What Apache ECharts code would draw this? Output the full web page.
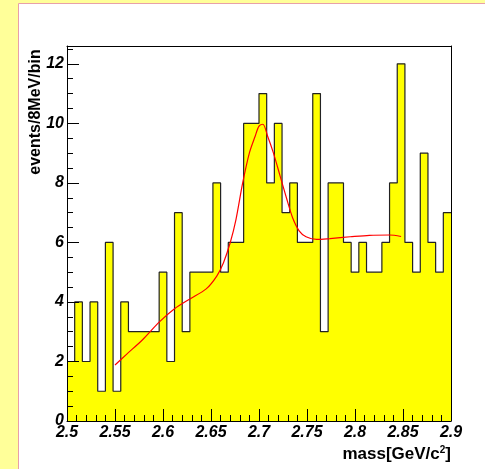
<!DOCTYPE html>
<html>
<head>
<meta charset="utf-8">
<script src="https://cdn.jsdelivr.net/npm/echarts@6/dist/echarts.min.js"></script>
<style>
html,body{margin:0;padding:0;background:#ffff99;}
#main{width:485px;height:469px;}
</style>
</head>
<body>
<div id="main"></div>
<script>
// histogram: 50 bins of 8 MeV from 2.5 GeV
var binLow = 2.5;
var binWidth = 0.008;
var counts = [2,4,2,4,1,6,1,4,3,3, 3,3,5,2,7,3,5,5,5,8,
              5,6,6,10,10,11,8,10,7,8, 6,6,11,3,8,8,6,5,6,5,
              5,6,8,12,6,5,9,6,5,7];

// fitted curve
var fitX = [2.550,2.562,2.579,2.596,2.612,2.628,2.645,2.656,2.663,2.670,2.676,2.683,2.690,2.696,2.700,
            2.704,2.709,2.715,2.722,2.729,2.735,2.742,2.749,2.760,2.774,2.795,2.815,2.836,2.848];
var fitY = [1.88,2.24,2.74,3.32,3.77,4.10,4.44,4.87,5.32,5.99,6.77,8.00,9.01,9.57,9.91,
            9.97,9.57,9.01,8.23,7.45,6.83,6.38,6.19,6.10,6.13,6.19,6.24,6.25,6.20];

var xTicks = [2.5,2.55,2.6,2.65,2.7,2.75,2.8,2.85,2.9];
var yTicks = [0,2,4,6,8,10,12];
var yMinorTicks = [0,0.5,1,1.5,2,2.5,3,3.5,4,4.5,5,5.5,6,6.5,7,7.5,8,8.5,9,9.5,10,10.5,11,11.5,12,12.5];

var histData = [];
for (var i = 0; i < counts.length; i++) {
	histData.push([+(binLow + i*binWidth).toFixed(3), counts[i]]);
}
histData.push([+(binLow + counts.length*binWidth).toFixed(3), counts[counts.length-1]]);

var fitData = [];
for (var j = 0; j < fitX.length; j++) {
	fitData.push([fitX[j], fitY[j]]);
}

var labelFont = {
	color: '#000',
	fontFamily: 'Liberation Sans, Arial, sans-serif',
	fontWeight: 'bold',
	fontStyle: 'italic',
	fontSize: 16
};

var myChart = echarts.init(document.getElementById('main'), null, {renderer: 'canvas'});

var option = {
	backgroundColor: '#ffff99',
	animation: false,
	grid: {
		left: 67,
		right: 34,
		top: 46,
		bottom: 48,
		show: false
	},
	graphic: [{
		type: 'rect',
		z: -10,
		shape: {x: 18.5, y: 3.5, width: 480, height: 480},
		style: {fill: '#ffffff', stroke: '#e8a0a8', lineWidth: 1}
	}, {
		type: 'text',
		x: 36,
		y: 112,
		rotation: Math.PI/2,
		style: {
			text: 'events/8MeV/bin',
			fill: '#000',
			fontFamily: 'Liberation Sans, Arial, sans-serif',
			fontWeight: 'bold',
			fontSize: 16,
			align: 'center',
			verticalAlign: 'middle'
		}
	}, {
		type: 'text',
		x: 451,
		y: 454,
		style: {
			text: '{a|mass[GeV/c}{s|2}{a|]}',
			fill: '#000',
			align: 'right',
			verticalAlign: 'middle',
			rich: {
				a: {fontFamily: 'Liberation Sans, Arial, sans-serif', fontWeight: 'bold', fontSize: 17},
				s: {fontFamily: 'Liberation Sans, Arial, sans-serif', fontWeight: 'bold', fontSize: 10, verticalAlign: 'top'}
			}
		}
	}],
	xAxis: [{
		type: 'value',
		min: 2.5,
		max: 2.9,
		interval: 0.05,
		z: 10,
		axisLine: {show: true, onZero: false, lineStyle: {color: '#000', width: 1}},
		axisTick: {show: true, inside: true, length: 12, customValues: xTicks, lineStyle: {color: '#000'}},
		minorTick: {show: true, splitNumber: 5, length: 6, lineStyle: {color: '#000'}},
		axisLabel: Object.assign({margin: 4, customValues: xTicks, formatter: function(v){ return String(+v.toFixed(2)); }}, labelFont),
		splitLine: {show: false},
		minorSplitLine: {show: false}
	}, {
		type: 'value',
		position: 'top',
		min: 2.5,
		max: 2.9,
		z: 10,
		axisLine: {show: true, onZero: false, lineStyle: {color: '#000', width: 1}},
		axisTick: {show: false},
		axisLabel: {show: false},
		splitLine: {show: false}
	}],
	yAxis: [{
		type: 'value',
		min: 0,
		max: 12.6,
		interval: 2,
		z: 10,
		axisLine: {show: true, onZero: false, lineStyle: {color: '#000', width: 1}},
		axisTick: {show: true, inside: true, length: 12, customValues: yTicks, lineStyle: {color: '#000'}},
		axisLabel: Object.assign({margin: 3, customValues: yTicks}, labelFont),
		splitLine: {show: false}
	}, {
		type: 'value',
		position: 'left',
		min: 0,
		max: 12.6,
		interval: 0.5,
		z: 10,
		axisLine: {show: false},
		axisTick: {show: true, inside: true, length: 6, customValues: yMinorTicks, lineStyle: {color: '#000'}},
		axisLabel: {show: false},
		splitLine: {show: false}
	}, {
		type: 'value',
		position: 'right',
		min: 0,
		max: 12.6,
		z: 10,
		axisLine: {show: true, onZero: false, lineStyle: {color: '#000', width: 1}},
		axisTick: {show: false},
		axisLabel: {show: false},
		splitLine: {show: false}
	}],
	series: [{
		type: 'line',
		name: 'hist',
		step: 'end',
		data: histData,
		symbol: 'none',
		lineStyle: {color: '#222', width: 1.2},
		areaStyle: {color: '#ffff00', opacity: 1, origin: 'start'},
		z: 2
	}, {
		type: 'line',
		name: 'fit',
		data: fitData,
		smooth: 0.3,
		symbol: 'none',
		lineStyle: {color: '#ff0000', width: 1.2},
		z: 3
	}]
};

myChart.setOption(option);
</script>
</body>
</html>
